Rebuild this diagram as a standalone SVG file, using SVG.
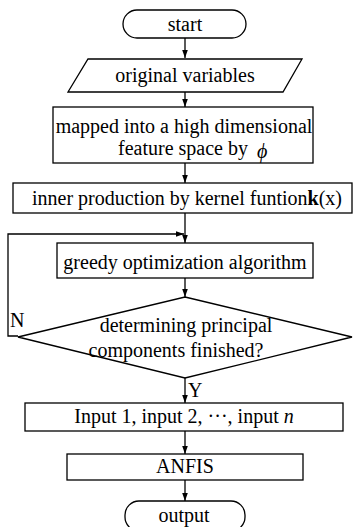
<svg xmlns="http://www.w3.org/2000/svg" width="353" height="527" viewBox="0 0 353 527">
<style>
.s{fill:#fff;stroke:#000;stroke-width:1.3}
.t{font-family:"Liberation Serif","Times New Roman",serif;font-size:20px;fill:#000}
.m{text-anchor:middle}
.c{fill:none;stroke:#000;stroke-width:1.3}
</style>
<defs>
<marker id="a" viewBox="0 0 10 10" refX="10" refY="5" markerWidth="8" markerHeight="8" markerUnits="userSpaceOnUse" orient="auto">
<path d="M0,1.5 L10,5 L0,8.5 Z" fill="#000"/>
</marker>
</defs>
<rect width="353" height="527" fill="#fff"/>
<g id="connectors">
<path class="c" d="M185,38 V58" marker-end="url(#a)"/>
<path class="c" d="M185,92 V107" marker-end="url(#a)"/>
<path class="c" d="M185,163 V183" marker-end="url(#a)"/>
<path class="c" d="M185,213 V243" marker-end="url(#a)"/>
<path class="c" d="M18,336 H8 V234 H184" marker-end="url(#a)"/>
<path class="c" d="M185,278 V297" marker-end="url(#a)"/>
<path class="c" d="M185,378 V403" marker-end="url(#a)"/>
<path class="c" d="M185,431 V454" marker-end="url(#a)"/>
<path class="c" d="M185,480 V501" marker-end="url(#a)"/>
<text class="t" x="10" y="327">N</text>
<text class="t" x="188" y="397">Y</text>
</g>
<g id="start">
<rect class="s" x="123" y="10" width="123" height="28" rx="14"/>
<text class="t m" x="185" y="31">start</text>
</g>
<g id="original">
<polygon class="s" points="88,59 302,59 283,92 68,92"/>
<text class="t m" x="185" y="82">original variables</text>
</g>
<g id="mapped">
<rect class="s" x="53" y="107" width="260" height="56"/>
<text class="t m" x="184" y="133">mapped into a high dimensional</text>
<text class="t" x="118" y="155">feature space by <tspan font-style="italic" dx="4" dy="3">ϕ</tspan></text>
</g>
<g id="inner">
<rect class="s" x="13" y="183" width="339" height="30"/>
<text class="t" x="32" y="205">inner production by kernel funtion<tspan font-weight="bold">k</tspan>(x)</text>
</g>
<g id="greedy">
<rect class="s" x="57" y="243" width="256" height="35"/>
<text class="t m" x="185" y="269">greedy optimization algorithm</text>
</g>
<g id="decision">
<polygon class="s" points="185,297 352,337 185,378 18,337"/>
<text class="t m" x="186" y="332">determining principal</text>
<text class="t m" x="176" y="357">components finished?</text>
</g>
<g id="inputs">
<rect class="s" x="25" y="403" width="318" height="28"/>
<text class="t m" x="184" y="423">Input 1, input 2, ···, input <tspan font-style="italic">n</tspan></text>
</g>
<g id="anfis">
<rect class="s" x="67" y="454" width="236" height="26"/>
<text class="t m" x="185" y="473">ANFIS</text>
</g>
<g id="output">
<rect class="s" x="125" y="501" width="120" height="30" rx="14"/>
<text class="t m" x="184" y="522">output</text>
</g>
</svg>
